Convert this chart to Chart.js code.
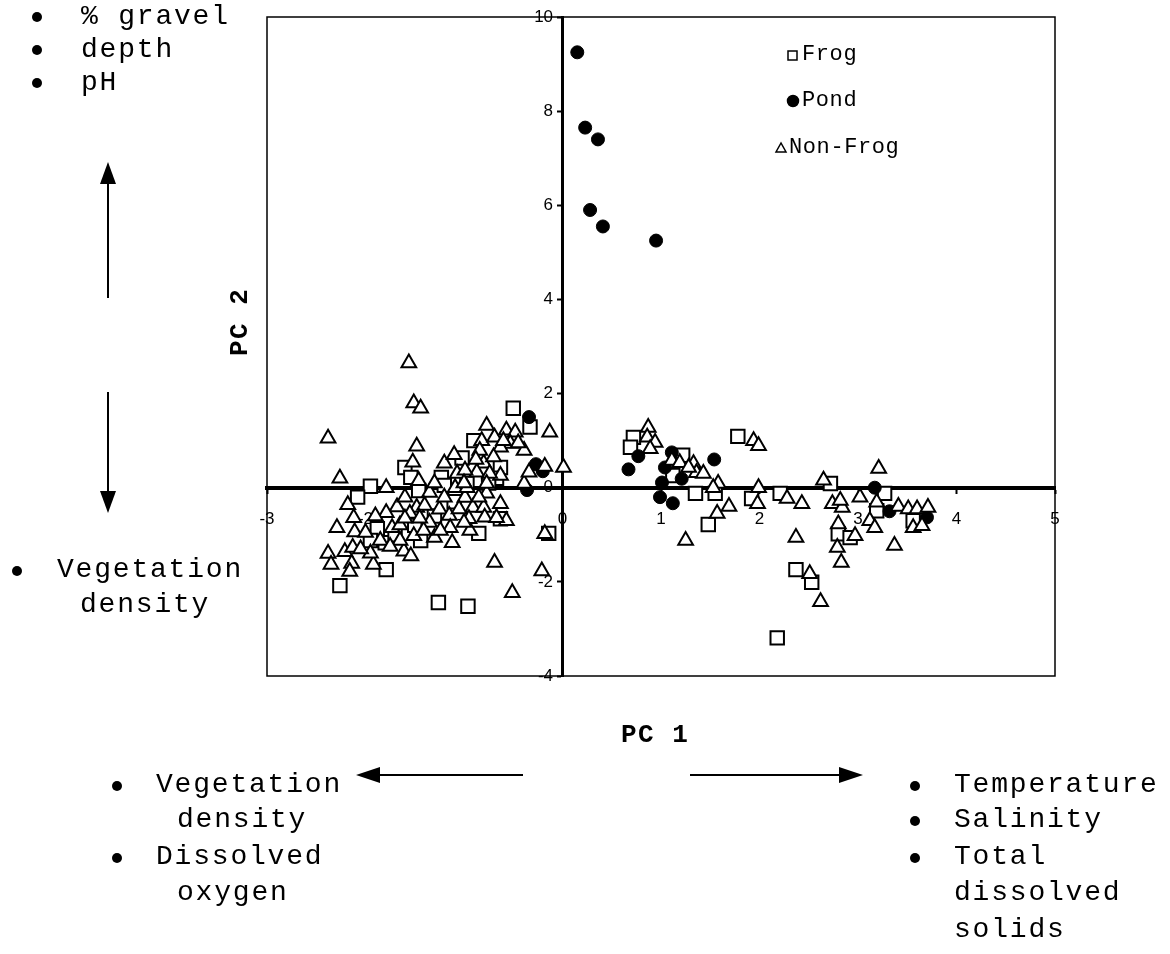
<!DOCTYPE html>
<html>
<head>
<meta charset="utf-8">
<script src="https://cdn.jsdelivr.net/npm/chart.js@4.4.1/dist/chart.umd.min.js"></script>
<style>
  body { margin: 0; background: #fff; }
  #wrap { position: relative; width: 1170px; height: 954px; overflow: hidden; }
  #pca { position: absolute; left: 0; top: 0; }
  #arrows { position: absolute; left: 0; top: 0; }
  .t { position: absolute; font-family: 'Liberation Mono', monospace; font-size: 28px; letter-spacing: 1.8px; color: #000; white-space: pre; line-height: 1; }
  .b { position: absolute; width: 10px; height: 10px; border-radius: 50%; background: #000; }
  .lg { position: absolute; font-family: 'Liberation Mono', monospace; font-size: 22px; letter-spacing: 0.6px; color: #000; white-space: pre; line-height: 1; }
  .ttl { position: absolute; font-family: 'Liberation Mono', monospace; font-weight: bold; font-size: 26px; letter-spacing: 1.5px; color: #000; white-space: pre; line-height: 1; }
</style>
</head>
<body>
<div id="wrap">
  <canvas id="pca" width="1170" height="954"></canvas>
  <svg id="arrows" width="1170" height="954">
    <g stroke="#000" stroke-width="2" fill="#000">
      <line x1="108" y1="298" x2="108" y2="180"/>
      <polygon points="108,162 100,184 116,184" stroke="none"/>
      <line x1="108" y1="392" x2="108" y2="495"/>
      <polygon points="108,513 100,491 116,491" stroke="none"/>
      <line x1="523" y1="775" x2="378" y2="775"/>
      <polygon points="356,775 380,767 380,783" stroke="none"/>
      <line x1="690" y1="775" x2="842" y2="775"/>
      <polygon points="863,775 839,767 839,783" stroke="none"/>
    </g>
    <!-- legend markers -->
    <g stroke="#000" stroke-width="1.5" fill="#fff">
      <rect x="788" y="51" width="9" height="9"/>
      <circle cx="793" cy="101" r="5.5" fill="#000"/>
      <polygon points="781,143 776,152 786,152"/>
    </g>
  </svg>

  <div class="b" style="left:32px;top:12px"></div>
  <div class="t" style="left:81px;top:3px">% gravel</div>
  <div class="b" style="left:32px;top:45px"></div>
  <div class="t" style="left:81px;top:36px">depth</div>
  <div class="b" style="left:32px;top:78px"></div>
  <div class="t" style="left:81px;top:69px">pH</div>

  <div class="b" style="left:12px;top:566px"></div>
  <div class="t" style="left:57px;top:556px">Vegetation</div>
  <div class="t" style="left:80px;top:591px">density</div>

  <div class="b" style="left:112px;top:781px"></div>
  <div class="t" style="left:156px;top:771px">Vegetation</div>
  <div class="t" style="left:177px;top:806px">density</div>
  <div class="b" style="left:112px;top:853px"></div>
  <div class="t" style="left:156px;top:843px">Dissolved</div>
  <div class="t" style="left:177px;top:879px">oxygen</div>

  <div class="b" style="left:910px;top:781px"></div>
  <div class="t" style="left:954px;top:771px">Temperature</div>
  <div class="b" style="left:910px;top:816px"></div>
  <div class="t" style="left:954px;top:806px">Salinity</div>
  <div class="b" style="left:910px;top:853px"></div>
  <div class="t" style="left:954px;top:843px">Total</div>
  <div class="t" style="left:954px;top:879px">dissolved</div>
  <div class="t" style="left:954px;top:916px">solids</div>

  <div class="lg" style="left:802px;top:44px">Frog</div>
  <div class="lg" style="left:802px;top:90px">Pond</div>
  <div class="lg" style="left:789px;top:137px">Non-Frog</div>

  <div class="ttl" style="left:621px;top:722px">PC 1</div>
  <div class="ttl" style="left:207px;top:310px;transform:rotate(-90deg);transform-origin:33px 13px">PC 2</div>
</div>

<script>
// axis ticks
const xTicks = [-3, -2, -1, 0, 1, 2, 3, 4, 5];
const yTicks = [-4, -2, 0, 2, 4, 6, 8, 10];

// Frog sites
const frogX = [-0.50, -0.33, -1.95, -2.08, -1.60, -1.54, -1.02, -1.23, -1.46, -0.90,
  -1.88, -1.95, -1.50, -1.44, -1.79, -2.26, -1.26, -0.96, -0.85, -0.63,
  -0.14, -1.09, -0.63, -0.67, -0.97, -1.80, -1.10, -1.30, -1.70, -0.75, -1.20,
  0.72, 0.69, 1.22, 1.12, 1.35, 1.55, 1.48, 1.78, 1.92, 2.21,
  2.37, 2.53, 2.18, 2.72, 3.27, 3.19, 2.80, 2.92, 3.56];
const frogY = [1.69, 1.29, 0.03, -0.20, 0.43, 0.22, 0.63, 0.22, -0.06, 1.00,
  -0.87, -1.12, -0.80, -1.12, -1.74, -2.08, -2.44, -2.52, -0.97, -0.66,
  -0.97, -0.12, 0.43, 0.20, 0.09, -1.17, -0.30, -0.60, -1.00, 0.10, 0.05,
  1.07, 0.86, 0.69, 0.26, -0.12, -0.12, -0.78, 1.09, -0.23, -0.12,
  -1.74, -2.01, -3.19, 0.09, -0.12, -0.49, -0.98, -1.06, -0.70];

// Pond sites
const pondX = [0.15, 0.23, 0.36, 0.28, 0.41, 0.95, -0.34, -0.27, -0.36, -0.20,
  0.67, 0.77, 1.11, 1.04, 1.01, 1.21, 0.99, 1.12, 1.54, 3.17, 3.32, 3.70];
const pondY = [9.25, 7.65, 7.40, 5.90, 5.55, 5.25, 1.50, 0.50, -0.05, 0.35,
  0.39, 0.67, 0.75, 0.43, 0.11, 0.19, -0.20, -0.33, 0.60, 0.00, -0.50, -0.63];

// Non-frog sites
const nonFrogX = [-1.56, -1.51, -1.44, -2.38, -2.26, -1.48, -1.52, -1.79, -2.18, -2.12,
  -2.29, -2.11, -2.38, -2.35, -2.21, -2.13, -2.14, -2.16, -1.92, -1.95,
  -1.68, -1.79, -1.73, -1.65, -1.61, -1.54, -1.46, -1.35, -1.48, -1.40,
  -1.25, -1.35, -1.55, -1.20, -1.07, -1.09, -0.99, -0.91, -1.15, -1.14,
  -1.12, -1.30, -0.80, -0.79, -0.94, -0.95, -0.77, -0.63, -0.77, -0.82,
  -0.69, -0.57, -0.48, -0.53, -0.39, -0.63, -0.80, -0.87, -0.74, -0.99,
  -0.84, -0.77, -0.63, -0.57, -0.67, -0.39, -0.34, -0.18, -0.13, 0.01,
  -0.69, -0.51, -0.18, -0.21, -0.97, -1.24, -1.85, -1.65, -1.51, -1.41,
  -1.00, -1.60, -1.30, -1.90, -2.00, -1.05, -0.88, -0.70, -0.60, -0.45,
  -1.10, -1.00, -1.20, -0.85, -1.60, -1.75, -2.05, -1.45,
  0.87, 0.86, 0.94, 0.89, 1.11, 1.19, 1.33, 1.36, 1.43, 1.28,
  1.58, 1.53, 1.57, 1.69, 1.25, 1.94, 1.99, 1.99, 1.98, 2.28,
  2.43, 2.37, 2.51, 2.62, 2.65, 2.74, 2.84, 2.82, 2.80, 2.79,
  2.83, 2.97, 3.02, 3.21, 3.19, 3.12, 3.17, 3.37, 3.41, 3.51,
  3.60, 3.71, 3.56, 3.65];
const nonFrogY = [2.65, 1.80, 1.69, 1.05, 0.20, 0.88, 0.54, 0.00, -0.36, -0.64,
  -0.85, -0.94, -1.40, -1.63, -1.36, -1.27, -1.61, -1.78, -1.63, -1.39,
  -0.41, -0.53, -0.85, -0.79, -1.35, -1.45, 0.15, -0.10, -0.42, -0.38,
  -0.46, -0.74, -0.55, 0.52, 0.30, 0.00, -0.21, -0.42, -0.59, -0.85,
  -1.17, -1.06, -0.42, -0.63, -0.91, -0.66, -0.12, 0.26, 1.32, 1.00,
  1.07, 1.22, 1.18, 0.94, 0.79, 0.86, 0.52, 0.33, 0.30, 0.37,
  0.79, 0.09, -0.34, -0.70, -0.64, 0.09, 0.33, 0.45, 1.18, 0.43,
  -1.59, -2.23, -0.98, -1.77, 0.00, -0.91, -1.12, -1.12, -1.02, -0.91,
  -0.74, -0.20, 0.10, -0.60, -0.95, -0.45, 0.60, 0.65, 1.00, 0.95,
  0.70, 0.10, -0.20, -0.20, -0.65, -1.25, -1.30, -0.65,
  1.28, 1.07, 0.96, 0.83, 0.58, 0.53, 0.51, 0.32, 0.30, 0.43,
  0.09, 0.00, -0.55, -0.40, -1.12, 1.00, 0.89, 0.00, -0.34, -0.23,
  -0.34, -1.06, -1.83, -2.42, 0.16, -0.34, -0.42, -0.27, -0.77, -1.27,
  -1.59, -1.02, -0.20, 0.41, -0.31, -0.70, -0.85, -1.23, -0.40, -0.45,
  -0.45, -0.42, -0.85, -0.81];

function pairs(xs, ys) {
  return xs.map((x, i) => ({ x: x, y: ys[i] }));
}

// box round the plot area
const frameBox = {
  id: 'frameBox',
  beforeDatasetsDraw(chart) {
    const a = chart.chartArea;
    const ctx = chart.ctx;
    ctx.save();
    ctx.strokeStyle = '#000';
    ctx.lineWidth = 1.5;
    ctx.strokeRect(a.left, a.top, a.right - a.left, a.bottom - a.top);
    ctx.restore();
  }
};

const ctx = document.getElementById('pca').getContext('2d');
new Chart(ctx, {
  type: 'scatter',
  data: {
    datasets: [
      {
        label: 'Frog',
        data: pairs(frogX, frogY),
        pointStyle: 'rect',
        pointRadius: 9.5,
        pointBackgroundColor: '#fff',
        pointBorderColor: '#000',
        pointBorderWidth: 2,
        order: 2
      },
      {
        label: 'Pond',
        data: pairs(pondX, pondY),
        pointStyle: 'circle',
        pointRadius: 6.5,
        pointBackgroundColor: '#000',
        pointBorderColor: '#000',
        pointBorderWidth: 1,
        order: 1
      },
      {
        label: 'Non-Frog',
        data: pairs(nonFrogX, nonFrogY),
        pointStyle: 'triangle',
        pointRadius: 8.5,
        pointBackgroundColor: '#fff',
        pointBorderColor: '#000',
        pointBorderWidth: 2,
        order: 0
      }
    ]
  },
  options: {
    responsive: false,
    animation: false,
    layout: { padding: { left: 267, right: 115, top: 17, bottom: 278 } },
    plugins: {
      legend: { display: false },
      tooltip: { enabled: false }
    },
    scales: {
      x: {
        type: 'linear',
        position: { y: 0 },
        min: xTicks[0],
        max: xTicks[xTicks.length - 1],
        afterBuildTicks: (s) => { s.ticks = xTicks.map(v => ({ value: v })); },
        grid: { drawOnChartArea: false, tickLength: 4, color: '#000', tickWidth: 2 },
        border: { display: true, color: '#000', width: 4 },
        ticks: { color: '#000', padding: 17, font: { family: 'Liberation Sans', size: 17 } }
      },
      y: {
        type: 'linear',
        position: { x: 0 },
        min: yTicks[0],
        max: yTicks[yTicks.length - 1],
        afterBuildTicks: (s) => { s.ticks = yTicks.map(v => ({ value: v })); },
        grid: { drawOnChartArea: false, tickLength: 4, color: '#000', tickWidth: 2 },
        border: { display: true, color: '#000', width: 3 },
        // centred axis ignores padding, so pad the label text itself
        ticks: { color: '#000', font: { family: 'Liberation Sans', size: 17 }, callback: (v) => v + '  ' }
      }
    }
  },
  plugins: [frameBox]
});
</script>
</body>
</html>
